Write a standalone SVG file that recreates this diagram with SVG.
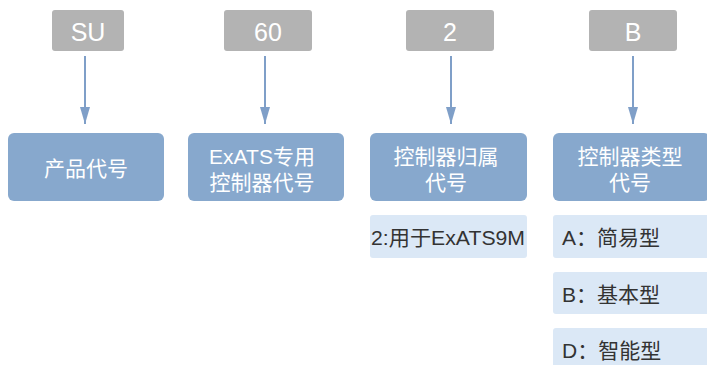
<svg xmlns="http://www.w3.org/2000/svg" width="707" height="365" viewBox="0 0 707 365">
<defs>
<marker id="ah" markerWidth="17" markerHeight="10" refX="17" refY="5" orient="auto" markerUnits="userSpaceOnUse">
<path d="M0,0 L17,5 L0,10 Z" fill="#7f9fc8"/>
</marker>
<style>
.code{fill:#b3b3b3}
.main{fill:#87a8cd}
.opt{fill:#dbe8f6}
.ct{font-family:"Liberation Sans","Noto Sans CJK SC",sans-serif;font-size:25px;fill:#fff;text-anchor:middle}
.mt{font-family:"Liberation Sans","Noto Sans CJK SC",sans-serif;font-size:21px;fill:#fff;text-anchor:middle}
.ot{font-family:"Liberation Sans","Noto Sans CJK SC",sans-serif;font-size:21px;fill:#333}
.conn{stroke:#7f9fc8;stroke-width:2;fill:none}
</style>
</defs>
<rect width="707" height="365" fill="#fff"/>
<g id="code-SU"><rect class="code" x="52" y="10" width="72" height="41" rx="3"/><text class="ct" x="88" y="41">SU</text></g>
<g id="code-60"><rect class="code" x="224" y="10" width="88" height="41" rx="3"/><text class="ct" x="268" y="41">60</text></g>
<g id="code-2"><rect class="code" x="406" y="10" width="88" height="41" rx="3"/><text class="ct" x="450" y="41">2</text></g>
<g id="code-B"><rect class="code" x="589" y="10" width="88" height="41" rx="3"/><text class="ct" x="633" y="41">B</text></g>
<g id="connectors">
<line class="conn" x1="85" y1="56" x2="85" y2="124" marker-end="url(#ah)"/>
<line class="conn" x1="265" y1="56" x2="265" y2="124" marker-end="url(#ah)"/>
<line class="conn" x1="451" y1="56" x2="451" y2="124" marker-end="url(#ah)"/>
<line class="conn" x1="633" y1="56" x2="633" y2="124" marker-end="url(#ah)"/>
</g>
<g id="n-product"><rect class="main" x="8" y="133" width="156" height="68" rx="6"/><text class="mt" x="86" y="176">产品代号</text></g>
<g id="n-exats"><rect class="main" x="188" y="133" width="156" height="68" rx="6"/><text class="mt" x="262" y="164">ExATS专用</text><text class="mt" x="262" y="190">控制器代号</text></g>
<g id="n-belong"><rect class="main" x="370" y="133" width="157" height="68" rx="6"/><text class="mt" x="446" y="164">控制器归属</text><text class="mt" x="446" y="190">代号</text></g>
<g id="n-type"><rect class="main" x="553" y="133" width="157" height="68" rx="6"/><text class="mt" x="630" y="164">控制器类型</text><text class="mt" x="630" y="190">代号</text></g>
<g id="o-2"><rect class="opt" x="370" y="215" width="157" height="43" rx="3"/><text class="ot" x="371" y="245" textLength="154" lengthAdjust="spacingAndGlyphs">2:用于ExATS9M</text></g>
<g id="o-A"><rect class="opt" x="553" y="215" width="157" height="43" rx="3"/><text class="ot" x="562" y="245">A：简易型</text></g>
<g id="o-B"><rect class="opt" x="553" y="272" width="157" height="42" rx="3"/><text class="ot" x="562" y="302">B：基本型</text></g>
<g id="o-D"><rect class="opt" x="553" y="328" width="157" height="43" rx="3"/><text class="ot" x="562" y="358">D：智能型</text></g>
</svg>
